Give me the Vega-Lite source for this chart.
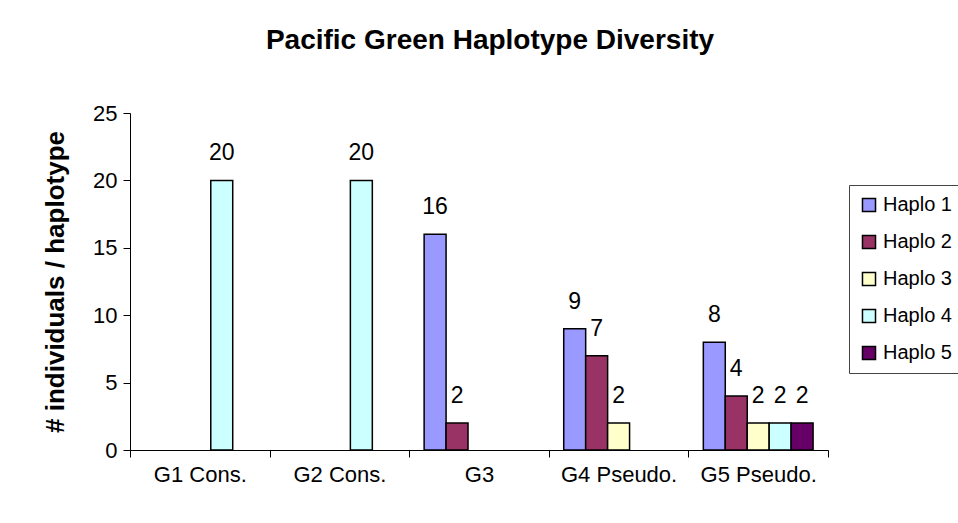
{
  "$schema": "https://vega.github.io/schema/vega-lite/v6.json",
  "width": 698,
  "height": 337,
  "autosize": {"type": "none"},
  "padding": {"left": 130, "top": 113, "right": 130, "bottom": 73},
  "background": "white",
  "config": {
    "font": "Liberation Sans",
    "view": {"stroke": null},
    "axis": {"labelFont": "Liberation Sans", "titleFont": "Liberation Sans", "labelColor": "black", "titleColor": "black", "domainColor": "black", "tickColor": "black", "grid": false}
  },
  "title": {
    "text": "Pacific Green Haplotype Diversity",
    "fontSize": 28,
    "fontWeight": "bold",
    "font": "Liberation Sans",
    "color": "black",
    "anchor": "middle",
    "frame": "group",
    "dx": 11,
    "offset": 47
  },
  "data": {
    "values": [
      {"group": "G1 Cons.", "haplo": "Haplo 4", "count": 20},
      {"group": "G2 Cons.", "haplo": "Haplo 4", "count": 20},
      {"group": "G3", "haplo": "Haplo 1", "count": 16},
      {"group": "G3", "haplo": "Haplo 2", "count": 2},
      {"group": "G4 Pseudo.", "haplo": "Haplo 1", "count": 9},
      {"group": "G4 Pseudo.", "haplo": "Haplo 2", "count": 7},
      {"group": "G4 Pseudo.", "haplo": "Haplo 3", "count": 2},
      {"group": "G5 Pseudo.", "haplo": "Haplo 1", "count": 8},
      {"group": "G5 Pseudo.", "haplo": "Haplo 2", "count": 4},
      {"group": "G5 Pseudo.", "haplo": "Haplo 3", "count": 2},
      {"group": "G5 Pseudo.", "haplo": "Haplo 4", "count": 2},
      {"group": "G5 Pseudo.", "haplo": "Haplo 5", "count": 2}
    ]
  },
  "encoding": {
    "x": {
      "field": "group",
      "type": "nominal",
      "sort": null,
      "scale": {"paddingInner": 0, "paddingOuter": 0},
      "axis": {"title": null, "labelAngle": 0, "labelFontSize": 22, "tickBand": "extent", "tickSize": 7, "labelPadding": 7, "domainWidth": 1, "tickWidth": 1}
    },
    "xOffset": {
      "field": "haplo",
      "type": "nominal",
      "sort": ["Haplo 1", "Haplo 2", "Haplo 3", "Haplo 4", "Haplo 5"],
      "scale": {"paddingInner": 0, "paddingOuter": 0.68}
    },
    "y": {
      "field": "count",
      "type": "quantitative",
      "scale": {"domain": [0, 25], "nice": false},
      "axis": {"title": "# individuals / haplotype", "titleFontSize": 26, "titleFontWeight": "bold", "titlePadding": 24, "labelFontSize": 22, "values": [0, 5, 10, 15, 20, 25], "tickSize": 7, "labelPadding": 6}
    }
  },
  "layer": [
    {
      "mark": {"type": "bar", "stroke": "black", "strokeWidth": 1.5},
      "encoding": {
        "color": {
          "field": "haplo",
          "type": "nominal",
          "scale": {"domain": ["Haplo 1", "Haplo 2", "Haplo 3", "Haplo 4", "Haplo 5"], "range": ["#9999FF", "#993366", "#FFFFCC", "#CCFFFF", "#660066"]},
          "legend": {
            "title": null,
            "orient": "none",
            "legendX": 719,
            "legendY": 72,
            "symbolType": "square",
            "symbolSize": 170,
            "symbolStrokeColor": "black",
            "symbolStrokeWidth": 1.5,
            "labelFontSize": 20,
            "labelColor": "black",
            "labelFont": "Liberation Sans",
            "rowPadding": 17,
            "padding": 10,
            "strokeColor": "#444444",
            "fillColor": "white",
            "labelLimit": 200
          }
        }
      }
    },
    {
      "mark": {"type": "text", "baseline": "alphabetic", "dy": -20, "fontSize": 23, "color": "black", "font": "Liberation Sans"},
      "encoding": {
        "text": {"field": "count", "type": "quantitative"}
      }
    }
  ]
}
